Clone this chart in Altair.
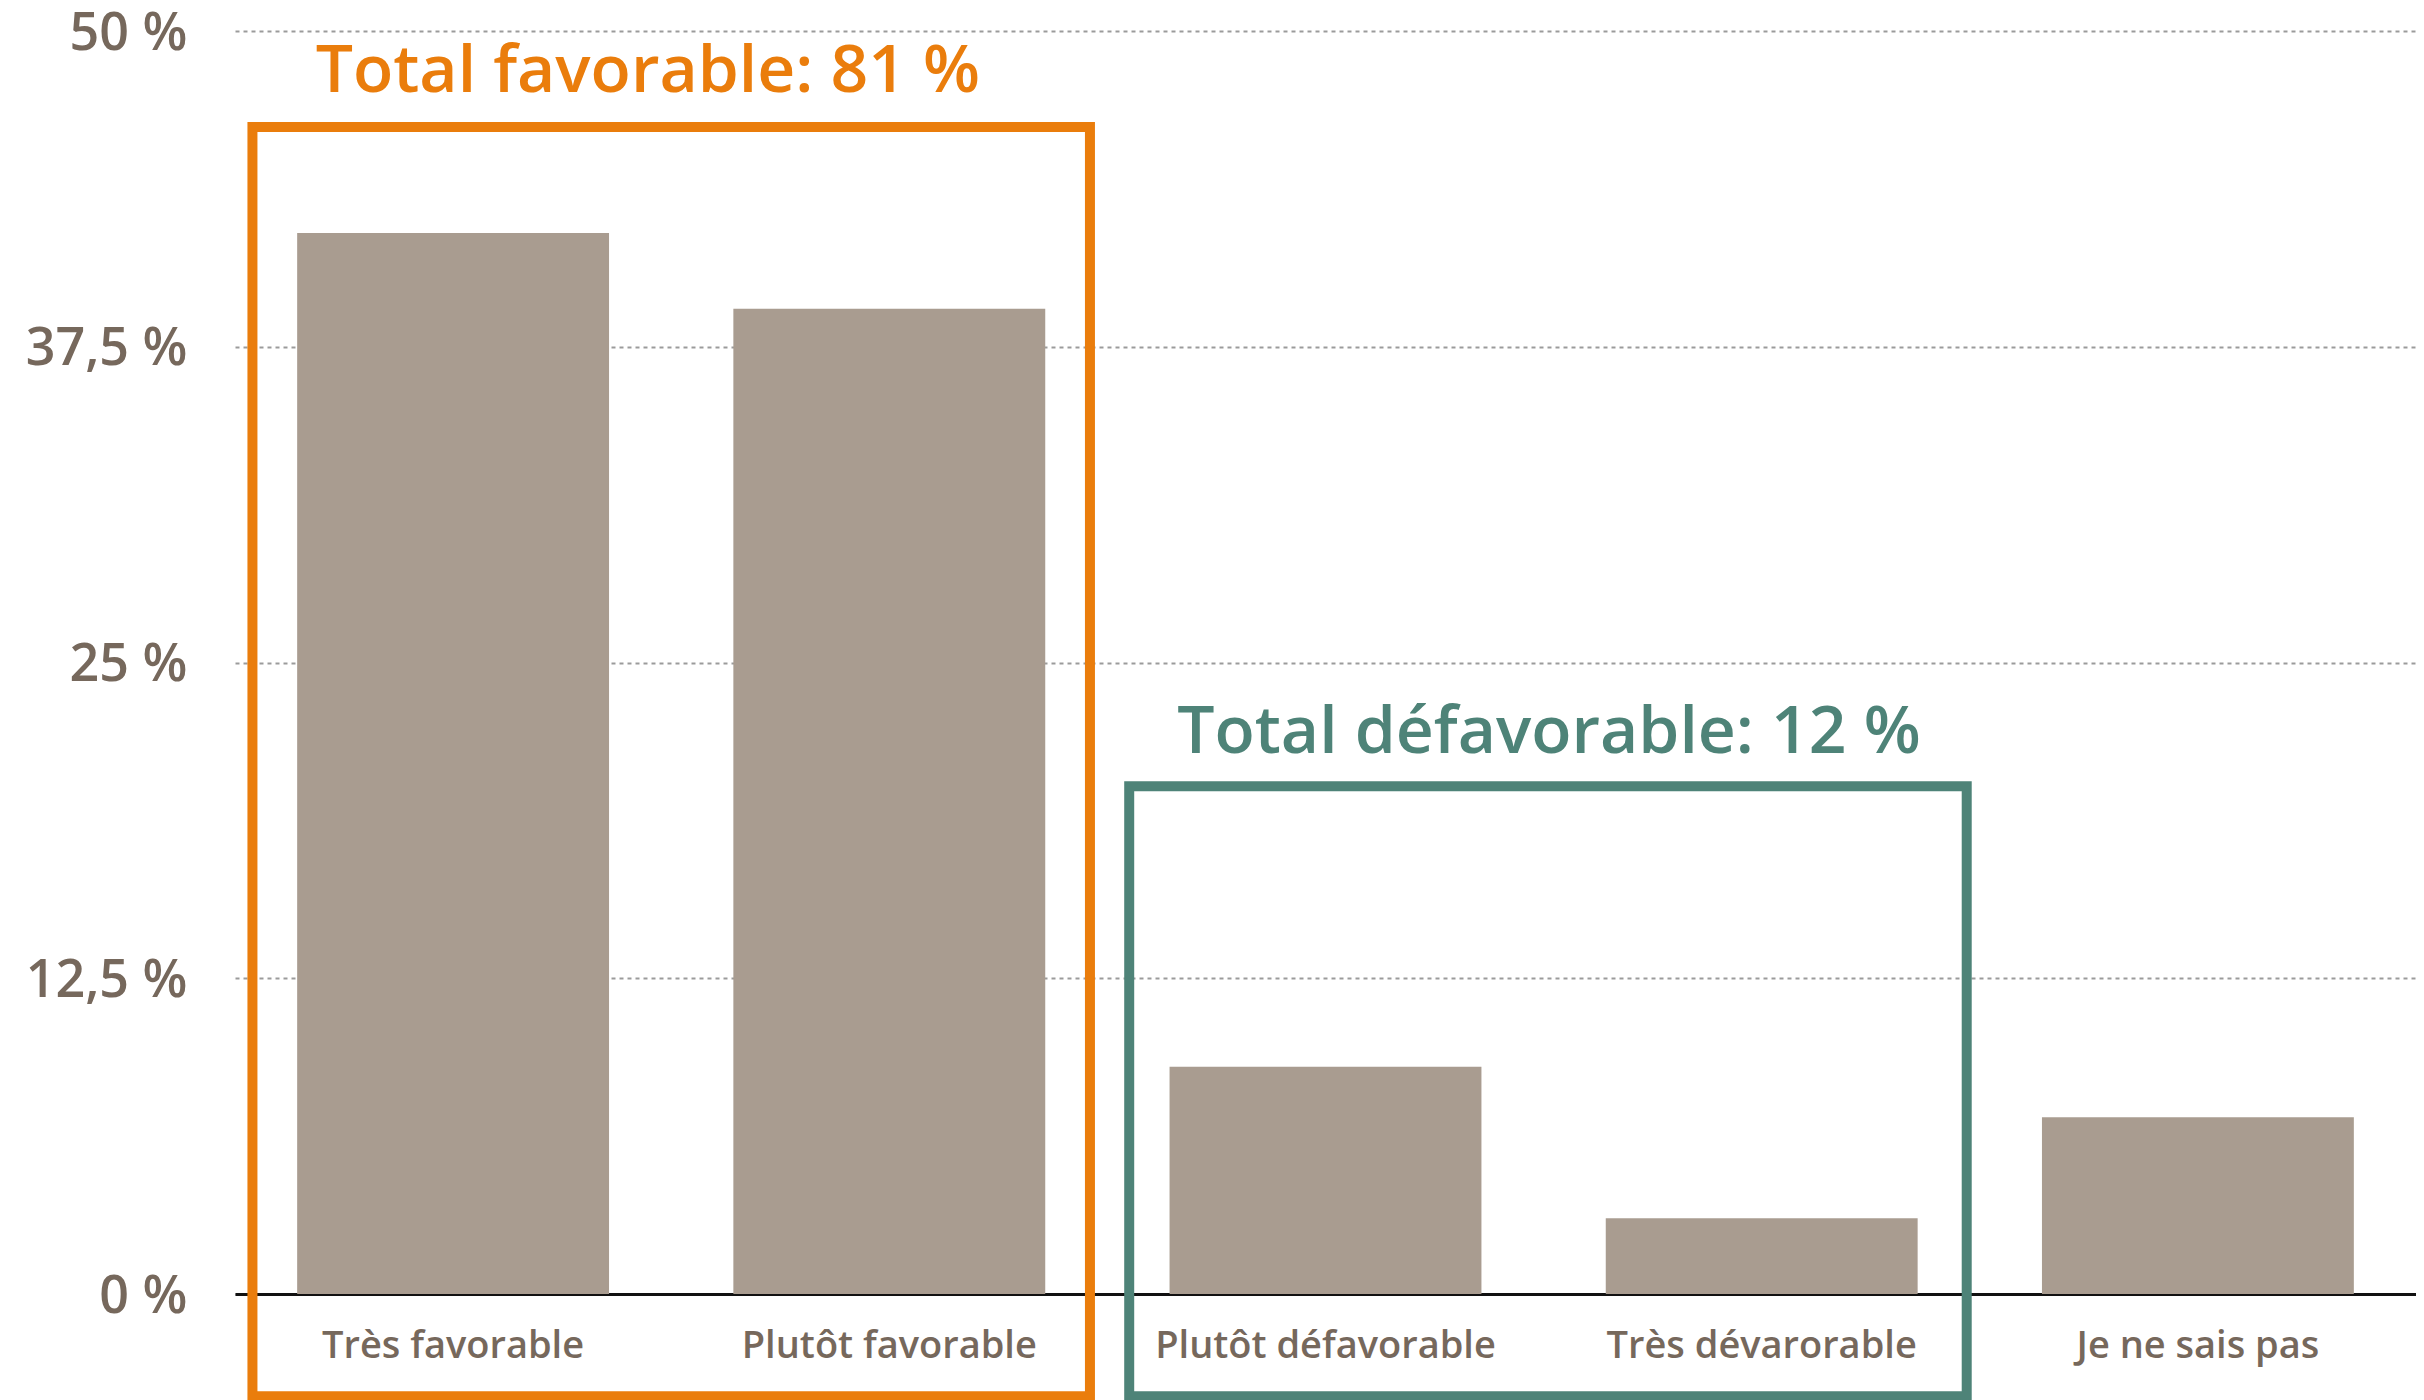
import altair as alt
import pandas as pd

categories = ["Très favorable", "Plutôt favorable", "Plutôt défavorable", "Très dévarorable", "Je ne sais pas"]
values = [42, 39, 9, 3, 7]
y_ticks = [0, 12.5, 25, 37.5, 50]
y_tick_labels = ["0 %", "12,5 %", "25 %", "37,5 %", "50 %"]

group_titles = ["Total favorable: 81 %", "Total défavorable: 12 %"]
group_colors = ["#ea7d0c", "#4e8378"]
box_x_start = [0.04, 2.05]
box_x_end = [1.96, 3.97]
box_y_top = [46.2, 20.1]
box_y_bottom = [-4.05, -4.05]
title_x = [0.185, 2.16]
title_y = [47.6, 21.4]

FONT = "Open Sans"
TEXT_COLOR = "#76685c"
BAR_COLOR = "#a99c90"

df = pd.DataFrame({"cat": categories, "value": values})
boxes_df = pd.DataFrame({"x": box_x_start, "x2": box_x_end, "y": box_y_top, "y2": box_y_bottom, "color": group_colors})
titles_df = pd.DataFrame({"x": title_x, "y": title_y, "text": group_titles, "color": group_colors})

label_expr = " : ".join(
    f"datum.value == {v} ? '{l}'" for v, l in zip(y_ticks, y_tick_labels)
) + " : ''"

yscale = alt.Scale(domain=[0, 50], nice=False, zero=False)
xq = alt.Scale(domain=[0, 5], nice=False, zero=False)

bars = alt.Chart(df).mark_bar(color=BAR_COLOR).encode(
    x=alt.X("cat:N", sort=categories,
            scale=alt.Scale(paddingInner=0.285, paddingOuter=0.1425),
            axis=alt.Axis(title=None, labelAngle=0, labelFontSize=38, labelFont=FONT,
                          labelFontWeight=600,
                          labelColor=TEXT_COLOR, ticks=False, tickSize=0, labelLimit=1000,
                          domainColor="#111111", domainWidth=3, labelPadding=63,
                          labelBaseline="alphabetic", grid=False)),
    y=alt.Y("value:Q", scale=yscale,
            axis=alt.Axis(values=y_ticks, labelExpr=label_expr, title=None, domain=False,
                          ticks=False, tickSize=0, labelPadding=48, labelFontSize=52,
                          labelFontWeight=600, labelBaseline="alphabetic", labelOffset=18,
                          labelFont=FONT, labelColor=TEXT_COLOR, grid=True, labelLimit=1000,
                          gridDash=[4, 4], gridColor="#9b9b9b", gridWidth=2)),
)

boxes = alt.Chart(boxes_df).mark_rect(fillOpacity=0, strokeWidth=10).encode(
    x=alt.X("x:Q", scale=xq, axis=None),
    x2="x2:Q",
    y=alt.Y("y:Q", scale=yscale),
    y2="y2:Q",
    stroke=alt.Stroke("color:N", scale=None),
)

titles = alt.Chart(titles_df).mark_text(align="left", baseline="alphabetic", fontSize=66,
                                        font=FONT, fontWeight=600).encode(
    x=alt.X("x:Q", scale=xq, axis=None),
    y=alt.Y("y:Q", scale=yscale),
    text="text:N",
    color=alt.Color("color:N", scale=None),
)

chart = alt.layer(bars, boxes, titles).resolve_scale(x="independent").properties(
    width=2181, height=1263,
    padding={"left": 227, "top": 23, "right": 0, "bottom": 106},
    autosize=alt.AutoSizeParams(type="none"),
    background="white",
).configure_view(stroke=None)

chart.save("out.html", embed_options={"renderer": "svg", "actions": False})
